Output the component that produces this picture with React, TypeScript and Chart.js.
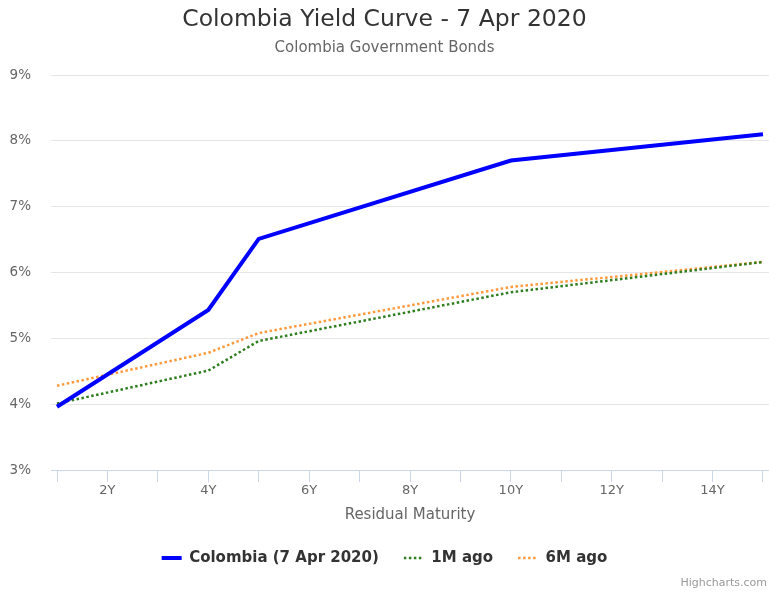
import React, { useEffect, useRef } from "react";
import { Chart, registerables } from "chart.js";

Chart.register(...registerables);

const TITLE = "Colombia Yield Curve - 7 Apr 2020";
const SUBTITLE = "Colombia Government Bonds";
const X_TITLE = "Residual Maturity";
const CREDIT = "Highcharts.com";

const maturities = [1, 4, 5, 10, 15];
const colombia = [3.96, 5.43, 6.51, 7.7, 8.1];
const oneMonthAgo = [4.01, 4.51, 4.96, 5.7, 6.16];
const sixMonthsAgo = [4.28, 4.78, 5.08, 5.78, 6.16];

const seriesNames = ["Colombia (7 Apr 2020)", "1M ago", "6M ago"];
const xTicks = [1, 2, 3, 4, 5, 6, 7, 8, 9, 10, 11, 12, 13, 14, 15];
const yTicks = [3, 4, 5, 6, 7, 8, 9];

const FONT = '"DejaVu Sans", "Verdana", sans-serif';

const creditPlugin = {
  id: "credit",
  afterDraw(chart: any) {
    const ctx = chart.ctx;
    ctx.save();
    ctx.font = `11px ${FONT}`;
    ctx.fillStyle = "#999999";
    ctx.textAlign = "right";
    ctx.textBaseline = "middle";
    ctx.fillText(CREDIT, 767, 583);
    ctx.restore();
  },
};

export default function App() {
  const ref = useRef<HTMLCanvasElement | null>(null);

  useEffect(() => {
    if (!ref.current) return;
    const toPts = (ys: number[]) => maturities.map((x, i) => ({ x, y: ys[i] }));
    const chart = new Chart(ref.current, {
      type: "line",
      data: {
        datasets: [
          {
            label: seriesNames[0],
            data: toPts(colombia),
            borderColor: "#0000ff",
            backgroundColor: "#0000ff",
            borderWidth: 4,
            pointRadius: 0,
            tension: 0,
          },
          {
            label: seriesNames[1],
            data: toPts(oneMonthAgo),
            borderColor: "#2e7d1e",
            backgroundColor: "#2e7d1e",
            borderWidth: 2.5,
            borderDash: [2.5, 2.5],
            pointRadius: 0,
            tension: 0,
          },
          {
            label: seriesNames[2],
            data: toPts(sixMonthsAgo),
            borderColor: "#ff9a3c",
            backgroundColor: "#ff9a3c",
            borderWidth: 2.5,
            borderDash: [2.5, 2.5],
            pointRadius: 0,
            tension: 0,
          },
        ],
      },
      options: {
        responsive: false,
        animation: false,
        events: [],
        layout: { padding: { left: 0, right: 0, top: 0, bottom: 16.5 } },
        font: { family: FONT },
        scales: {
          x: {
            type: "linear",
            min: 0.881,
            max: 15.119,
            afterBuildTicks: (scale: any) => {
              scale.ticks = xTicks.map((v) => ({ value: v }));
            },
            ticks: {
              autoSkip: false,
              maxRotation: 0,
              padding: 1,
              color: "#666666",
              font: { family: FONT, size: 13 },
              callback: (v: any) => (Number(v) % 2 === 0 ? `${v}Y` : ""),
            },
            grid: {
              drawOnChartArea: false,
              drawTicks: true,
              tickLength: 12,
              color: "#ccd6eb",
              lineWidth: 1,
            },
            border: { display: true, color: "#ccd6eb", width: 1 },
            title: {
              display: true,
              text: X_TITLE,
              color: "#666666",
              font: { family: FONT, size: 15 },
              padding: { top: 6.4, bottom: 1.5 },
            },
          },
          y: {
            type: "linear",
            min: 3,
            max: 9,
            afterBuildTicks: (scale: any) => {
              scale.ticks = yTicks.map((v) => ({ value: v }));
            },
            afterFit: (scale: any) => {
              scale.width = 51;
            },
            ticks: {
              padding: 20,
              color: "#666666",
              font: { family: FONT, size: 13.5 },
              callback: (v: any) => `${v}%`,
            },
            grid: { color: "#e6e6e6", lineWidth: 1, drawTicks: false },
            border: { display: false },
          },
        },
        plugins: {
          title: {
            display: true,
            text: TITLE,
            color: "#333333",
            font: { family: FONT, size: 23.5, weight: "normal" },
            padding: { top: 6.2, bottom: 0 },
          },
          subtitle: {
            display: true,
            text: SUBTITLE,
            color: "#666666",
            font: { family: FONT, size: 15, weight: "normal" },
            padding: { top: 4.6, bottom: 18 },
          },
          legend: {
            display: true,
            position: "bottom",
            labels: {
              usePointStyle: true,
              pointStyle: "line",
              pointStyleWidth: 20,
              padding: 25,
              color: "#333333",
              font: { family: FONT, size: 15, weight: "bold" },
              generateLabels: (c: any) =>
                c.data.datasets.map((ds: any, i: number) => ({
                  text: ds.label,
                  datasetIndex: i,
                  hidden: !c.isDatasetVisible(i),
                  strokeStyle: ds.borderColor,
                  fillStyle: ds.borderColor,
                  lineWidth: ds.borderWidth,
                  lineDash: ds.borderDash || [],
                  pointStyle: "line",
                  fontColor: "#333333",
                })),
            },
          },
          tooltip: { enabled: false },
        },
      },
      plugins: [creditPlugin],
    } as any);
    return () => chart.destroy();
  }, []);

  return (
    <div style={{ position: "fixed", left: 0, top: 0, width: 769, height: 592, background: "#ffffff" }}>
      <canvas ref={ref} width={769} height={592} />
    </div>
  );
}
